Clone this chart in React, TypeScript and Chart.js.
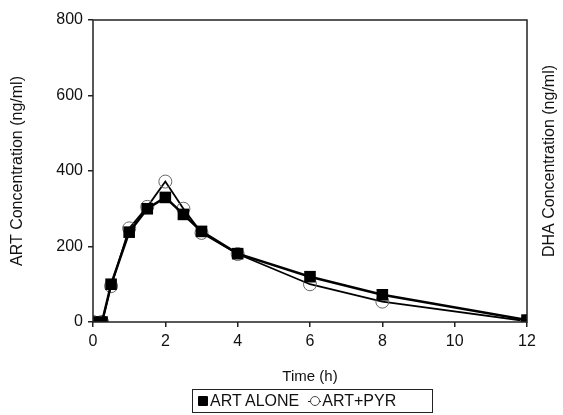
import React, { useEffect, useRef } from "react";
import { Chart, registerables } from "chart.js";

Chart.register(...registerables);

const times = [0, 0.25, 0.5, 1, 1.5, 2, 2.5, 3, 4, 6, 8, 12];
const artAlone = [0, 0, 100, 238, 300, 330, 285, 240, 181, 120, 72, 5];
const artPyr = [0, 0, 95, 248, 305, 372, 300, 236, 180, 100, 54, 2];
const xTicks = [0, 2, 4, 6, 8, 10, 12];
const yTicks = [0, 200, 400, 600, 800];
const seriesNames = ["ART ALONE", "ART+PYR"];
const rightTitle = "DHA Concentration (ng/ml)";

const FONT = "'Liberation Sans', Arial, sans-serif";

const framePlugin = {
  id: "frameBox",
  afterDatasetsDraw(chart: any) {
    const { ctx, chartArea } = chart;
    ctx.save();
    ctx.strokeStyle = "#222";
    ctx.lineWidth = 1.5;
    ctx.strokeRect(chartArea.left, chartArea.top, chartArea.right - chartArea.left, chartArea.bottom - chartArea.top);
    ctx.restore();
  },
  afterDraw(chart: any) {
    const { ctx, chartArea } = chart;
    ctx.save();
    ctx.fillStyle = "#111";
    ctx.font = `16px ${FONT}`;
    ctx.textAlign = "center";
    ctx.textBaseline = "middle";
    ctx.translate(550, (chartArea.top + chartArea.bottom) / 2 - 10);
    ctx.rotate(-Math.PI / 2);
    ctx.fillText(rightTitle, 0, 0);
    ctx.restore();
  },
};

export default function App() {
  const ref = useRef<HTMLCanvasElement | null>(null);
  useEffect(() => {
    if (!ref.current) return;
    const chart = new Chart(ref.current, {
      type: "line",
      data: {
        datasets: [
          {
            label: seriesNames[0],
            data: times.map((t, i) => ({ x: t, y: artAlone[i] })),
            borderColor: "#000",
            borderWidth: 2.5,
            pointStyle: "rect",
            pointRadius: 8.2,
            pointBackgroundColor: "#000",
            pointBorderColor: "#000",
            pointBorderWidth: 0,
            tension: 0,
          },
          {
            label: seriesNames[1],
            data: times.map((t, i) => ({ x: t, y: artPyr[i] })),
            borderColor: "#000",
            borderWidth: 1.8,
            pointStyle: "circle",
            pointRadius: 6.5,
            pointBackgroundColor: "rgba(0,0,0,0)",
            pointBorderColor: "#666",
            pointBorderWidth: 1,
            tension: 0,
          },
        ],
      },
      options: {
        animation: false,
        responsive: false,
        maintainAspectRatio: false,
        layout: { padding: { left: 0, right: 0, top: 20, bottom: 29 } },
        plugins: { legend: { display: false }, tooltip: { enabled: false } },
        scales: {
          x: {
            type: "linear",
            min: 0,
            max: 12,
            afterBuildTicks: (s: any) => {
              s.ticks = xTicks.map((v) => ({ value: v }));
            },
            afterFit: (s: any) => {
              s.height = 64;
            },
            grid: { drawOnChartArea: false, drawTicks: true, tickLength: 5, color: "#222", lineWidth: 1.5 },
            border: { display: false },
            ticks: { color: "#111", font: { family: FONT, size: 16 }, padding: 5, maxRotation: 0 },
            title: { display: true, text: "Time (h)", color: "#111", font: { family: FONT, size: 15 }, padding: { top: 4, bottom: 0 } },
          },
          y: {
            type: "linear",
            position: "left",
            min: 0,
            max: 800,
            afterBuildTicks: (s: any) => {
              s.ticks = yTicks.map((v) => ({ value: v }));
            },
            afterFit: (s: any) => {
              s.width = 93;
            },
            grid: { drawOnChartArea: false, drawTicks: true, tickLength: 5, color: "#222", lineWidth: 1.5 },
            border: { display: false },
            ticks: { color: "#111", font: { family: FONT, size: 16 }, padding: 5 },
            title: { display: true, text: "ART Concentration (ng/ml)", color: "#111", font: { family: FONT, size: 16 }, padding: { top: 8, bottom: 0 } },
          },
          y2: {
            type: "linear",
            position: "right",
            min: 0,
            max: 800,
            afterFit: (s: any) => {
              s.width = 36;
            },
            grid: { display: false },
            border: { display: false },
            ticks: { display: false },
            title: { display: false },
          },
        },
      },
      plugins: [framePlugin],
    } as any);
    return () => chart.destroy();
  }, []);

  return (
    <div style={{ position: "fixed", left: 0, top: 0, width: 563, height: 415, background: "#fff" }}>
      <canvas ref={ref} width={563} height={415} style={{ display: "block" }} />
      <div
        style={{
          position: "absolute",
          left: 192,
          top: 389,
          width: 239,
          height: 22,
          border: "1.5px solid #222",
          display: "flex",
          alignItems: "center",
          fontFamily: FONT,
          fontSize: 16,
          color: "#111",
          whiteSpace: "nowrap",
        }}
      >
        <span style={{ display: "inline-block", width: 10, height: 10, background: "#000", marginLeft: 5, marginRight: 2, borderRadius: 1 }} />
        <span>{seriesNames[0]}</span>
        <span style={{ position: "relative", display: "inline-block", width: 13, height: 10, marginLeft: 9, marginRight: 1 }}>
          <span style={{ position: "absolute", left: 0, right: 0, top: 5, borderTop: "1px solid #222" }} />
          <span style={{ position: "absolute", left: 2, top: 0, width: 8, height: 8, border: "1px solid #444", borderRadius: "50%", background: "#fff", boxSizing: "content-box" }} />
        </span>
        <span>{seriesNames[1]}</span>
      </div>
    </div>
  );
}
